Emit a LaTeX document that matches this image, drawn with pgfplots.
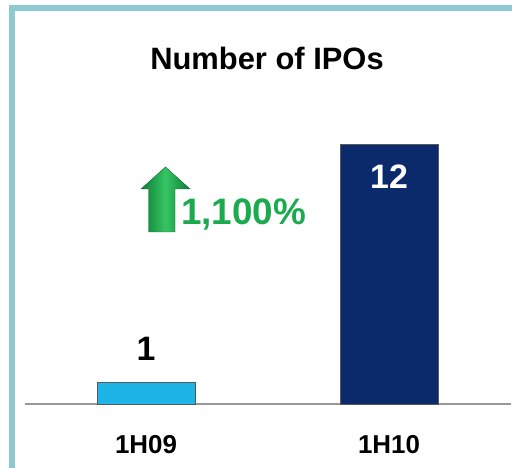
\documentclass[border=0pt]{standalone}
\usepackage{pgfplots}
\pgfplotsset{compat=1.18}
\usepackage{fontspec}
\setmainfont{Liberation Sans}
\definecolor{frameteal}{HTML}{8CC9D1}
\definecolor{barlight}{HTML}{1DB4E8}
\definecolor{barnavy}{HTML}{0B2A6B}
\definecolor{upgreen}{HTML}{1BAA4E}
\definecolor{arrowdark}{HTML}{0C7E34}
\definecolor{arrowlight}{HTML}{36C464}

\begin{document}
\begin{tikzpicture}[x=1bp, y=1bp]
\path[use as bounding box] (0,0) rectangle (512,468);
\clip (0,0) rectangle (512,468);
% frame, open to the right and bottom
\draw[frameteal, line width=6bp] (12,-20) -- (12,459.5) -- (540,459.5);
\begin{axis}[
  at={(24.5bp,64bp)}, anchor=south west,
  scale only axis, width=486bp, height=388.8bp,
  ybar, bar width=98bp,
  xmin=-0.5, xmax=1.5, ymin=0, ymax=18,
  axis y line=none, axis x line*=bottom,
  axis line style={draw=gray!80, line width=1.3bp},
  xtick={0,1}, xticklabels={1H09,1H10},
  major tick length=0pt,
  xticklabel style={font=\fontsize{26}{30}\selectfont\bfseries, inner sep=0pt, anchor=north, yshift=-31bp},
  ytick=\empty,
  /pgf/number format/assume math mode=true,
  clip=false,
]
\addplot[bar shift=0pt, fill=barlight, draw=gray!70!black, line width=0.8bp,
  nodes near coords, nodes near coords style={font=\fontsize{34}{38}\selectfont\bfseries, black, anchor=south, inner sep=0pt, yshift=21bp}]
  coordinates {(0,1)};
\addplot[bar shift=0pt, fill=barnavy, draw=gray!70!black, line width=0.8bp,
  nodes near coords, nodes near coords style={font=\fontsize{34}{38}\selectfont\bfseries, white, anchor=north, inner sep=0pt, yshift=-20bp}]
  coordinates {(1,12)};
\end{axis}
% title
\node[anchor=base, inner sep=0pt, font=\fontsize{31}{36}\selectfont\bfseries] at (267,398) {Number of IPOs};
% growth arrow and label
\shade[left color=arrowdark, right color=arrowdark, middle color=arrowlight, draw=arrowdark!80!black, line width=0.4bp]
  (148.5,236) -- (148.5,279) -- (141,279) -- (165.5,301) -- (190,279) -- (175,279) -- (175,236) -- cycle;
\node[anchor=base west, inner sep=0pt, text=upgreen, font=\fontsize{37}{41}\selectfont\bfseries] at (181,243) {1,100\%};
\end{tikzpicture}
\end{document}
